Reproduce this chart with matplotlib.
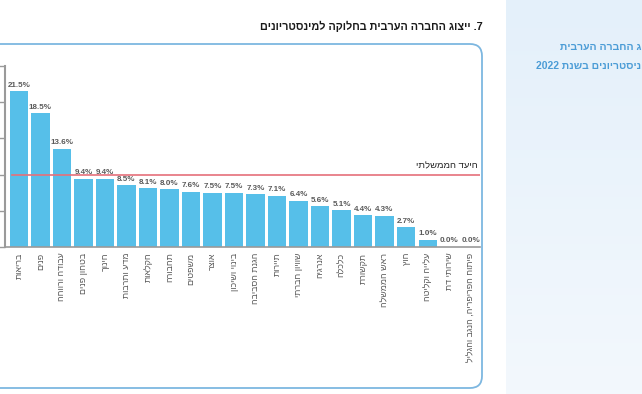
import re
import numpy as np
import matplotlib
matplotlib.use("Agg")
import matplotlib.pyplot as plt
from matplotlib.patches import FancyBboxPatch
from matplotlib.transforms import IdentityTransform

# data
ministries = ["בריאות", "פנים", "עבודה ורווחה", "בטחון פנים", "חינוך", "מדע ותרבות",
              "חקלאות", "תחבורה", "משפטים", "אוצר", "בינוי ושיכון", "הגנת הסביבה",
              "תיירות", "שוויון חברתי", "אנרגיה", "כלכלה", "תקשורת", "ראש הממשלה",
              "חוץ", "עלייה וקליטה", "שירותי דת", "פיתוח הפריפריה, הנגב והגליל"]
shares = [21.5, 18.5, 13.6, 9.4, 9.4, 8.5, 8.1, 8.0, 7.6, 7.5, 7.5, 7.3,
          7.1, 6.4, 5.6, 5.1, 4.4, 4.3, 2.7, 1.0, 0.0, 0.0]
target = 10
target_label = "היעד הממשלתי"
y_ticks = [0, 5, 10, 15, 20, 25]
title = "7. ייצוג החברה הערבית בחלוקה למינסטריונים"
side_lines = ["ג החברה הערבית", "ניסטריונים בשנת 2022"]

HEB = ["Liberation Sans", "DejaVu Sans"]
BAR = "#56bfe9"
GREY = "#5a5a5a"


def rtl(s):
    # matplotlib has no bidi, so hand it the visual order
    r = s[::-1]
    return re.sub(r"\d+", lambda m: m.group(0)[::-1], r)


fig = plt.figure(figsize=(6.42, 3.94), dpi=100)
W, H = 642, 394

# light blue side panel with a soft gradient
pan = fig.add_axes([506 / W, 0, 136 / W, 1], zorder=-5)
top = np.array([228, 240, 250]) / 255
bot = np.array([243, 248, 253]) / 255
grad = np.linspace(0, 1, 100)[:, None, None] * (bot - top) + top
pan.imshow(np.repeat(grad, 2, axis=1), aspect="auto")
pan.axis("off")

fig.text(641 / W, (H - 47) / H, rtl(side_lines[0]), ha="right", va="center",
         fontsize=7.5, fontweight="bold", color="#4b9cd6", family=HEB)
fig.text(641 / W, (H - 66) / H, rtl(side_lines[1]), ha="right", va="center",
         fontsize=7.5, fontweight="bold", color="#4b9cd6", family=HEB)

# rounded frame around the chart
frame = FancyBboxPatch((-20, 6), 502, 344, boxstyle="round,pad=0,rounding_size=12",
                       ec="#7db7e0", fc="none", lw=1.3, transform=IdentityTransform())
fig.add_artist(frame)

fig.text(483 / W, (H - 26) / H, rtl(title), ha="right", va="center",
         fontsize=7.8, fontweight="bold", color="#1a1a1a", family=HEB)

ax = fig.add_axes([5 / W, (H - 247) / H, 475 / W, 181 / H])
x = np.arange(len(shares))
ax.bar(x, shares, width=0.84, color=BAR, zorder=2)

for i, v in enumerate(shares):
    ax.text(i, v + 0.35, f"{v:.1f}%", ha="center", va="bottom", fontsize=5.8,
            fontweight="bold", color=GREY, family="Liberation Sans")

ax.axhline(target, xmin=(12 - 5) / 475, xmax=1.0, color="#e5707a", lw=1.2, zorder=3)
ax.text(0.995, target + 0.6, rtl(target_label), transform=ax.get_yaxis_transform(),
        ha="right", va="bottom", fontsize=6.8, color="#222222", family=HEB)

ax.set_xlim(-0.65, 21.44)
ax.set_ylim(0, 25)
ax.set_yticks(y_ticks)
ax.set_xticks(x)
ax.set_xticklabels([rtl(m) for m in ministries], rotation=90, fontsize=6.4,
                   color=GREY, family=HEB)
ax.tick_params(axis="x", length=0, pad=4)
ax.tick_params(axis="y", length=5, width=1, color="#9a9a9a", labelsize=6, pad=1,
               labelcolor=GREY)

for s in ["top", "right"]:
    ax.spines[s].set_visible(False)
ax.spines["left"].set_color("#9a9a9a")
ax.spines["left"].set_linewidth(1.5)
ax.spines["bottom"].set_color("#9a9a9a")
ax.spines["bottom"].set_linewidth(1.2)
ax.set_facecolor("none")

fig.savefig("out.png", dpi=100)
